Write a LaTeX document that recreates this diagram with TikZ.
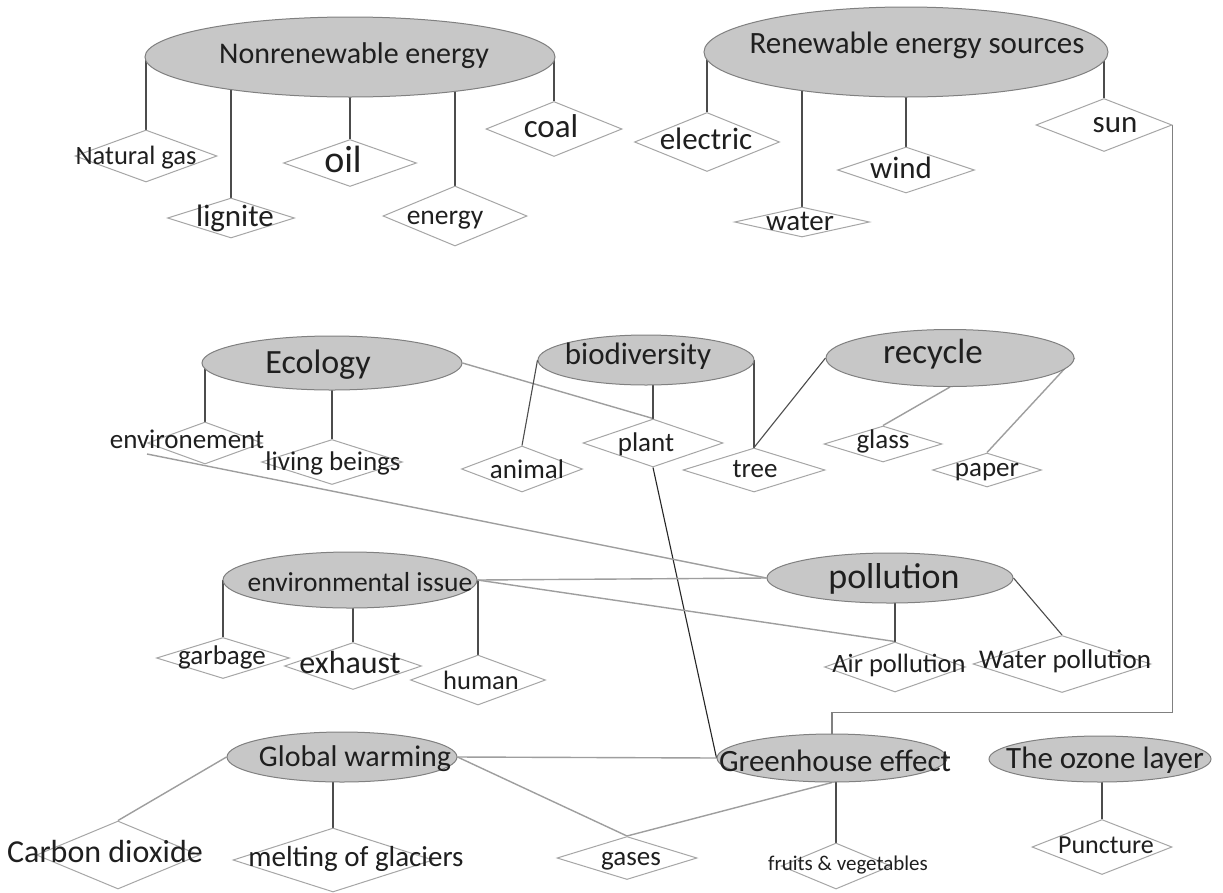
\documentclass[tikz,border=0pt]{standalone}
\usepackage{fontspec}
\setmainfont{Carlito}
\usetikzlibrary{shapes.geometric,calc}
\pgfdeclarelayer{bg}
\pgfdeclarelayer{fg}
\pgfsetlayers{bg,main,fg}
\newcommand\fsz[1]{\fontsize{#1}{#1}\selectfont}
\tikzset{
  dia/.style={shape=diamond,draw=black!35,fill=white,line width=1pt,inner sep=0pt},
  ell/.style={shape=ellipse,draw=black!50,fill=black!22,line width=1pt,inner sep=0pt},
  txt/.style={inner sep=0pt,text=black!88,yshift=-3pt},
  dark/.style={draw=black!70,line width=1.1pt},
  light/.style={draw=black!38,line width=1.4pt},
  mid/.style={draw=black!50,line width=1.3pt},
}
% name, center, w, h, text center, size, text
\newcommand\dianode[7]{%
  \node[dia,minimum width=#3pt,minimum height=#4pt] (#1) at (#2) {};
  \begin{pgfonlayer}{fg}\node[txt,font=\fsz{#6},text height=\dimexpr #6pt*62/100\relax,text depth=\dimexpr #6pt*18/100\relax] (#1-t) at (#5) {#7};\end{pgfonlayer}}
\newcommand\elnode[7]{%
  \node[ell,minimum width=#3pt,minimum height=#4pt] (#1) at (#2) {};
  \begin{pgfonlayer}{fg}\node[txt,font=\fsz{#6},text height=\dimexpr #6pt*62/100\relax,text depth=\dimexpr #6pt*18/100\relax] (#1-t) at (#5) {#7};\end{pgfonlayer}}
\begin{document}
\begin{tikzpicture}[x=1pt,y=-1pt]
\begin{pgfonlayer}{bg}
\fill[white] (0,0) rectangle (1223,892);
\end{pgfonlayer}
\useasboundingbox (0,0) rectangle (1223,892);

% ellipses
\elnode{nr}{350,57}{410}{80}{354,54}{30}{Nonrenewable energy}
\elnode{re}{906,52}{404}{90}{917,44}{31}{Renewable energy sources}
\elnode{eco}{332,363}{260}{54}{318,363}{34}{Ecology}
\elnode{bio}{646,360}{216}{50}{638,355}{31}{biodiversity}
\elnode{rec}{950,358}{248}{57}{933,353}{35}{recycle}
\elnode{ei}{350,580}{254}{56}{360,582}{27.5}{environmental issue}
\elnode{pol}{890,578}{246}{50}{894,578}{36}{pollution}
\elnode{gw}{342,757}{230}{50}{355,757}{30}{Global warming}
\elnode{gh}{832,758}{230}{48}{835,762}{31}{Greenhouse effect}
\elnode{oz}{1100,759}{222}{46}{1105,759}{31}{The ozone layer}

% diamonds
\dianode{ng}{146,156}{142}{52}{136,156}{26.5}{Natural gas}
\dianode{lig}{231,218}{127}{40}{235,217}{31}{lignite}
\dianode{oil}{350,163}{133}{47}{343,161}{38}{oil}
\dianode{ene}{455,216}{144}{60}{445,215}{27.5}{energy}
\dianode{coal}{554,129}{136}{55}{551,127}{33}{coal}
\dianode{ele}{707,142}{145}{59}{706,140}{31}{electric}
\dianode{wat}{802,222}{135}{30}{800,221}{29}{water}
\dianode{wind}{906,170}{137}{46}{901,169}{31}{wind}
\dianode{sun}{1104,125}{136}{53}{1115,123}{31}{sun}
\dianode{env}{205,443}{115}{42}{187,440}{27}{environement}
\dianode{liv}{332,462}{141}{45}{333,462}{27}{living beings}
\dianode{ani}{522,469}{121}{46}{527,470}{27}{animal}
\dianode{pla}{653,443}{140}{48}{646,443}{27}{plant}
\dianode{tree}{754,470}{142}{44}{755,469}{27}{tree}
\dianode{gla}{883,444}{118}{36}{883,440}{27}{glass}
\dianode{pap}{987,470}{109}{34}{987,468}{27}{paper}
\dianode{gar}{223,658}{133}{41}{222,656}{27}{garbage}
\dianode{exh}{353,666}{137}{47}{350,663}{32}{exhaust}
\dianode{hum}{478,680}{135}{50}{481,681}{26.5}{human}
\dianode{air}{895,667}{141}{50}{899,664}{26.5}{Air pollution}
\dianode{wp}{1062,664}{178}{57}{1065,660}{27}{Water pollution}
\dianode{co2}{118,855}{163}{68}{105,852}{32}{Carbon dioxide}
\dianode{mel}{333,860}{200}{64}{356,857}{29}{melting of glaciers}
\dianode{gas}{627,858}{140}{43}{631,857}{27}{gases}
\dianode{fru}{836,866}{110}{46}{848,863}{21}{fruits \& vegetables}
\dianode{pun}{1102,847}{140}{55}{1106,845}{26}{Puncture}

\begin{pgfonlayer}{bg}
% nonrenewable
\draw[dark] (ng.north) -- (ng.north |- nr.center);
\draw[dark] (lig.north) -- (lig.north |- nr.center);
\draw[dark] (oil.north) -- (oil.north |- nr.center);
\draw[dark] (ene.north) -- (ene.north |- nr.center);
\draw[dark] (coal.north) -- (coal.north |- nr.center);
% renewable
\draw[dark] (ele.north) -- (ele.north |- re.center);
\draw[dark] (wat.north) -- (wat.north |- re.center);
\draw[dark] (wind.north) -- (wind.north |- re.center);
\draw[dark] (sun.north) -- (sun.north |- re.center);
\draw[mid] (sun.east) |- ([yshift=21pt]gh.north) -- (gh.north);
% ecology / biodiversity / recycle
\draw[dark] (env.north) -- (env.north |- eco.center);
\draw[dark] (liv.north) -- (liv.north |- eco.center);
\draw[light] (eco.east) -- (pla.north);
\draw[dark] (bio.west) -- (ani.north);
\draw[dark] (pla.north) -- (pla.north |- bio.center);
\draw[dark] (tree.north) -- (tree.north |- bio.center);
\draw[dark] (tree.north) -- (rec.west);
\draw[light] (gla.north) -- (rec.south);
\draw[light] (pap.north) -- (rec.east);
\draw[dark,draw=black!85] (pla.south) -- (gh.west);
% environmental issue / pollution
\draw[dark] (gar.north) -- (gar.north |- ei.center);
\draw[dark] (exh.north) -- (exh.north |- ei.center);
\draw[dark] (hum.north) -- (hum.north |- ei.center);
\draw[light] (ei.east) -- (pol.west);
\draw[light] (ei.east) -- (air.north);
\draw[dark] (air.north) -- (air.north |- pol.center);
\draw[dark] (pol.east) -- (wp.north);
% global warming / greenhouse / ozone
\draw[light] (gw.east) -- (gh.west);
\draw[light] (gw.west) -- (co2.north);
\draw[dark] (mel.north) -- (mel.north |- gw.center);
\draw[light] (gw.east) -- (gas.north);
\draw[light] (gh.south) -- (gas.north);
\draw[dark] (fru.north) -- (fru.north |- gh.center);
\draw[dark] (pun.north) -- (pun.north |- oz.center);
\end{pgfonlayer}
% long line from environement, passing just under its diamond
\draw[light] ([yshift=-11pt]env.west) -- (pol.west);
\end{tikzpicture}
\end{document}
